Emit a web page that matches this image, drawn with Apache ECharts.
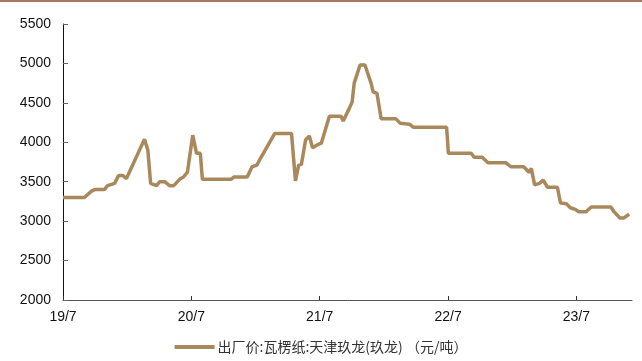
<!DOCTYPE html>
<html>
<head>
<meta charset="utf-8">
<script src="https://cdn.jsdelivr.net/npm/echarts@6/dist/echarts.min.js"></script>
<style>
  html, body { margin: 0; padding: 0; background: #fff; }
  #chart { width: 642px; height: 361px; }
</style>
</head>
<body>
<div id="chart"></div>
<script>
// Ex-factory price, corrugated paper, Tianjin Nine Dragons (yuan/ton)
const dates = [
  '2019-07-01','2019-09-01','2019-09-21','2019-09-30','2019-10-28','2019-11-06','2019-11-26','2019-12-07',
  '2019-12-19','2019-12-30','2020-02-19','2020-02-28','2020-03-07','2020-03-24','2020-04-02','2020-04-16',
  '2020-04-30','2020-05-12','2020-05-29','2020-06-09','2020-06-20','2020-07-05','2020-07-16','2020-07-27',
  '2020-08-02','2020-10-23','2020-11-01','2020-12-08','2020-12-22','2021-01-05','2021-01-17','2021-02-23',
  '2021-04-12','2021-04-23','2021-05-02','2021-05-10','2021-05-22','2021-06-02','2021-06-11','2021-06-25',
  '2021-07-06','2021-07-29','2021-09-01','2021-09-07','2021-09-24','2021-10-02','2021-10-08','2021-10-25',
  '2021-11-08','2021-11-25','2021-12-01','2021-12-12','2021-12-24','2022-02-04','2022-02-16','2022-03-13',
  '2022-03-25','2022-06-27','2022-07-02','2022-09-06','2022-09-14','2022-10-07','2022-10-24','2022-12-14',
  '2022-12-28','2023-02-03','2023-02-17','2023-02-23','2023-03-04','2023-03-18','2023-03-29','2023-04-10',
  '2023-05-08','2023-05-17','2023-06-03','2023-06-14','2023-06-28','2023-07-07','2023-07-29','2023-08-13',
  '2023-10-08','2023-10-17','2023-11-03','2023-11-14','2023-11-29'
];
const prices = [
  3300, 3300, 3380, 3400, 3400, 3450, 3480, 3580,
  3580, 3540, 4040, 3900, 3480, 3450, 3500, 3500,
  3450, 3450, 3530, 3560, 3620, 4090, 3860, 3860,
  3530, 3530, 3560, 3560, 3690, 3710, 3810, 4110,
  4110, 3510, 3710, 3720, 4030, 4080, 3930, 3970,
  3990, 4330, 4330, 4270, 4430, 4510, 4750, 4980,
  4980, 4750, 4640, 4620, 4300, 4300, 4240, 4230,
  4190, 4190, 3860, 3860, 3810, 3810, 3740, 3740,
  3690, 3690, 3620, 3670, 3460, 3480, 3520, 3430,
  3430, 3230, 3220, 3170, 3150, 3120, 3120, 3180,
  3180, 3120, 3040, 3040, 3090
];
const seriesName = '出厂价:瓦楞纸:天津玖龙(玖龙) （元/吨）';
const yTicks = { min: 2000, max: 5500, step: 500 };

// x position measured in months since July 2019
function monthsSince(d) {
  const [y, m, day] = d.split('-').map(Number);
  const dim = new Date(y, m, 0).getDate();
  return (y - 2019) * 12 + (m - 7) + (day - 1) / dim;
}
const points = dates.map((d, i) => [monthsSince(d), prices[i]]);

const chart = echarts.init(document.getElementById('chart'), null, { renderer: 'canvas' });
chart.setOption({
  animation: false,
  backgroundColor: '#ffffff',
  graphic: [{
    type: 'rect', left: 0, top: 0,
    shape: { width: 642, height: 2 },
    style: { fill: '#a37a5c' }
  }],
  grid: { left: 63, right: 10, top: 24, bottom: 61 },
  xAxis: {
    type: 'value',
    min: 0, max: 53.2, interval: 12,
    axisLine: { lineStyle: { color: '#555', width: 1 } },
    axisTick: { inside: true, length: 4, lineStyle: { color: '#333' } },
    splitLine: { show: false },
    axisLabel: {
      color: '#111', fontSize: 14, fontFamily: 'Liberation Sans, Arial', margin: 10,
      showMaxLabel: false,
      formatter: v => (19 + Math.round(v / 12)) + '/7'
    }
  },
  yAxis: {
    type: 'value',
    min: yTicks.min, max: yTicks.max, interval: yTicks.step,
    axisLine: { show: true, lineStyle: { color: '#111', width: 1 } },
    axisTick: { show: true, inside: true, length: 5, lineStyle: { color: '#666' } },
    splitLine: { show: false },
    axisLabel: {
      color: '#111', fontSize: 14, fontFamily: 'Liberation Sans, Arial', margin: 12,
      formatter: v => String(v)
    }
  },
  legend: {
    bottom: 2, left: 'center',
    icon: 'rect', itemWidth: 40, itemHeight: 4, itemGap: 4,
    textStyle: { color: '#333', fontSize: 14, fontFamily: 'Noto Sans CJK SC', padding: [0, 0, 0, -2] },
    data: [seriesName]
  },
  series: [{
    name: seriesName,
    type: 'line',
    data: points,
    showSymbol: false,
    lineStyle: { color: '#a9885c', width: 3.5 },
    itemStyle: { color: '#a9885c' }
  }]
});
</script>
</body>
</html>
